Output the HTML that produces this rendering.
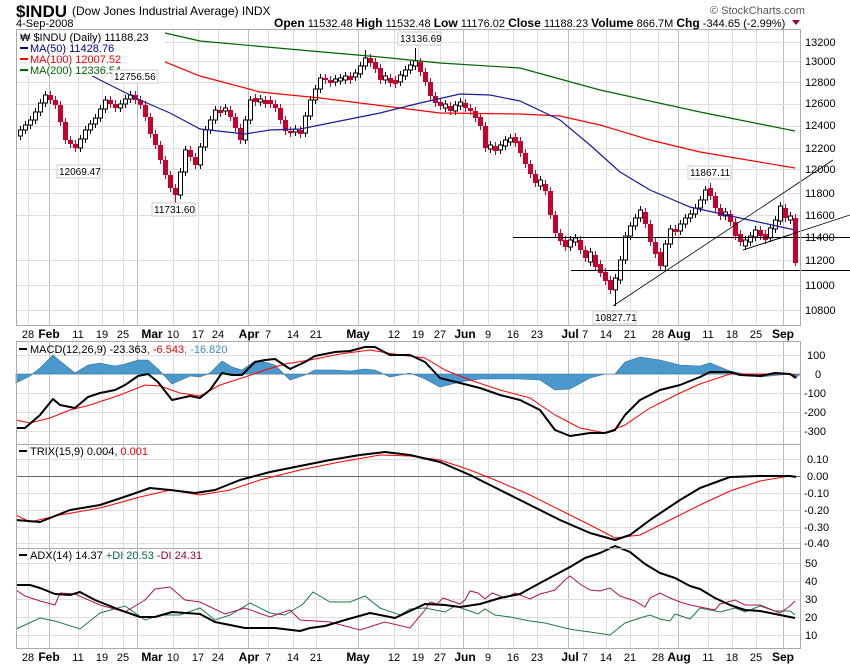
<!DOCTYPE html>
<html><head><meta charset="utf-8"><style>
html,body{margin:0;padding:0;background:#fff;}
svg{display:block;font-family:"Liberation Sans",sans-serif;}
</style></head><body>
<svg width="850" height="668" viewBox="0 0 850 668" xmlns="http://www.w3.org/2000/svg">
<rect width="850" height="668" fill="#fff"/>
<defs>
<g id="vg">
<g stroke="#ddd" stroke-width="1">
<line x1="28.5" x2="28.5" y1="0" y2="1"/><line x1="78.5" x2="78.5" y1="0" y2="1"/><line x1="102.5" x2="102.5" y1="0" y2="1"/><line x1="123.5" x2="123.5" y1="0" y2="1"/><line x1="173.5" x2="173.5" y1="0" y2="1"/><line x1="198.5" x2="198.5" y1="0" y2="1"/><line x1="218.5" x2="218.5" y1="0" y2="1"/><line x1="268.5" x2="268.5" y1="0" y2="1"/><line x1="293.5" x2="293.5" y1="0" y2="1"/><line x1="316.5" x2="316.5" y1="0" y2="1"/><line x1="394.5" x2="394.5" y1="0" y2="1"/><line x1="418.5" x2="418.5" y1="0" y2="1"/><line x1="440.5" x2="440.5" y1="0" y2="1"/><line x1="488.5" x2="488.5" y1="0" y2="1"/><line x1="513.5" x2="513.5" y1="0" y2="1"/><line x1="537.5" x2="537.5" y1="0" y2="1"/><line x1="583.5" x2="583.5" y1="0" y2="1"/><line x1="606.5" x2="606.5" y1="0" y2="1"/><line x1="630.5" x2="630.5" y1="0" y2="1"/><line x1="658.5" x2="658.5" y1="0" y2="1"/><line x1="708.5" x2="708.5" y1="0" y2="1"/><line x1="732.5" x2="732.5" y1="0" y2="1"/><line x1="756.5" x2="756.5" y1="0" y2="1"/>
</g>
<g stroke="#bbb" stroke-width="1">
<line x1="49.5" x2="49.5" y1="0" y2="1"/><line x1="137.5" x2="137.5" y1="0" y2="1"/><line x1="248.5" x2="248.5" y1="0" y2="1"/><line x1="358.5" x2="358.5" y1="0" y2="1"/><line x1="463.5" x2="463.5" y1="0" y2="1"/><line x1="568.5" x2="568.5" y1="0" y2="1"/><line x1="678.5" x2="678.5" y1="0" y2="1"/><line x1="783.5" x2="783.5" y1="0" y2="1"/>
</g>
</g>
</defs>
<use href="#vg" transform="translate(0,29) scale(1,296)"/>
<use href="#vg" transform="translate(0,341) scale(1,103)"/>
<use href="#vg" transform="translate(0,444) scale(1,104)"/>
<use href="#vg" transform="translate(0,548) scale(1,100)"/>
<g stroke="#ddd" stroke-width="1">
<line x1="16" x2="800" y1="42.5" y2="42.5"/><line x1="16" x2="800" y1="61.5" y2="61.5"/><line x1="16" x2="800" y1="82.5" y2="82.5"/><line x1="16" x2="800" y1="104.5" y2="104.5"/><line x1="16" x2="800" y1="126.5" y2="126.5"/><line x1="16" x2="800" y1="148.5" y2="148.5"/><line x1="16" x2="800" y1="169.5" y2="169.5"/><line x1="16" x2="800" y1="193.5" y2="193.5"/><line x1="16" x2="800" y1="215.5" y2="215.5"/><line x1="16" x2="800" y1="260.5" y2="260.5"/><line x1="16" x2="800" y1="285.5" y2="285.5"/><line x1="16" x2="800" y1="310.5" y2="310.5"/>
<line x1="16" x2="800" y1="355.5" y2="355.5"/><line x1="16" x2="800" y1="374.5" y2="374.5"/><line x1="16" x2="800" y1="393.5" y2="393.5"/><line x1="16" x2="800" y1="412.5" y2="412.5"/><line x1="16" x2="800" y1="431.5" y2="431.5"/>
<line x1="16" x2="800" y1="459.5" y2="459.5"/><line x1="16" x2="800" y1="493.5" y2="493.5"/><line x1="16" x2="800" y1="510.5" y2="510.5"/><line x1="16" x2="800" y1="527.5" y2="527.5"/><line x1="16" x2="800" y1="543.5" y2="543.5"/>
<line x1="16" x2="800" y1="563.5" y2="563.5"/><line x1="16" x2="800" y1="581.5" y2="581.5"/><line x1="16" x2="800" y1="599.5" y2="599.5"/><line x1="16" x2="800" y1="617.5" y2="617.5"/><line x1="16" x2="800" y1="635.5" y2="635.5"/>
</g>
<line x1="16" x2="800" y1="476.5" y2="476.5" stroke="#666"/>

<!-- candles: wicks -->
<path fill="none" stroke="#c8002e" stroke-width="1" d="M50.5,91V104M55.5,96V109M60.5,101V126M65.5,118V144M70.5,136V148M75.5,140V152M110.5,96V108M115.5,100V112M135.5,91V104M140.5,96V109M145.5,101V121M150.5,113V138M155.5,130V149M160.5,141V164M165.5,156V179M170.5,171V192M175.5,184V204M190.5,146V161M195.5,153V169M220.5,106V117M230.5,106V121M235.5,113V132M240.5,124V144M255.5,94V106M265.5,96V108M270.5,96V108M275.5,100V112M280.5,104V124M285.5,116V135M290.5,127V137M300.5,126V138M325.5,74V84M330.5,76V87M350.5,72V84M370.5,54V67M375.5,58V73M380.5,64V84M390.5,74V87M395.5,76V88M420.5,58V76M425.5,68V86M430.5,78V100M435.5,92V107M440.5,98V110M450.5,102V115M465.5,99V112M470.5,104V115M475.5,107V122M480.5,113V130M485.5,122V152M495.5,142V155M515.5,133V147M520.5,137V157M525.5,149V168M530.5,160V178M535.5,170V187M545.5,180V195M550.5,187V219M555.5,211V237M560.5,229V245M565.5,236V251M580.5,236V254M585.5,246V262M595.5,251V271M600.5,260V277M605.5,268V285M610.5,276V294M645.5,208V228M650.5,220V246M655.5,238V258M660.5,248V270M675.5,225V236M710.5,183V200M715.5,192V212M720.5,204V220M730.5,210V226M735.5,218V240M740.5,230V246M760.5,226V240M765.5,230V244M785.5,204V222M795.5,214V266"/>
<path fill="none" stroke="#000" stroke-width="1" d="M20.5,126V140M25.5,121V134M30.5,116V129M35.5,108V124M40.5,99V116M45.5,91V107M80.5,135V152M85.5,126V143M90.5,120V134M95.5,114V128M100.5,105V122M105.5,96V113M120.5,100V112M125.5,95V108M130.5,91V103M180.5,168V199M185.5,146V176M200.5,143V169M205.5,126V151M210.5,116V134M215.5,106V124M225.5,104V115M245.5,116V144M250.5,96V124M260.5,95V106M295.5,125V136M305.5,112V137M310.5,96V120M315.5,85V104M320.5,74V93M335.5,75V86M340.5,74V85M345.5,72V84M355.5,69V81M360.5,62V78M365.5,50V70M385.5,72V84M400.5,71V86M405.5,66V80M410.5,61V74M415.5,48V70M445.5,100V112M455.5,101V115M460.5,98V110M490.5,141V153M500.5,141V154M505.5,136V150M510.5,134V146M540.5,176V190M570.5,236V251M575.5,234V246M590.5,248V266M615.5,274V306M620.5,256V284M625.5,232V264M630.5,222V240M635.5,214V230M640.5,206V222M665.5,240V270M670.5,225V248M680.5,220V235M685.5,214V228M690.5,210V222M695.5,204V218M700.5,196V212M705.5,186V204M725.5,208V220M745.5,236V250M750.5,232V246M755.5,226V241M770.5,224V242M775.5,216V233M780.5,202V225M790.5,212V224"/>
<path fill="#c8002e" d="M48,95h5V100h-5zM53,100h5V105h-5zM58,105h5V122h-5zM63,122h5V140h-5zM68,140h5V144h-5zM73,144h5V148h-5zM108,100h5V104h-5zM113,104h5V108h-5zM133,95h5V100h-5zM138,100h5V105h-5zM143,105h5V117h-5zM148,117h5V134h-5zM153,134h5V145h-5zM158,145h5V160h-5zM163,160h5V175h-5zM168,175h5V188h-5zM173,188h5V195h-5zM188,150h5V157h-5zM193,157h5V165h-5zM218,110h5V113h-5zM228,110h5V117h-5zM233,117h5V128h-5zM238,128h5V140h-5zM253,98h5V102h-5zM263,100h5V104h-5zM268,100h5V104h-5zM273,104h5V108h-5zM278,108h5V120h-5zM283,120h5V131h-5zM288,131h5V133h-5zM298,130h5V134h-5zM323,78h5V80h-5zM328,80h5V83h-5zM348,76h5V80h-5zM368,58h5V63h-5zM373,62h5V69h-5zM378,68h5V80h-5zM388,78h5V83h-5zM393,80h5V84h-5zM418,62h5V72h-5zM423,72h5V82h-5zM428,82h5V96h-5zM433,96h5V103h-5zM438,102h5V106h-5zM448,106h5V111h-5zM463,103h5V108h-5zM468,108h5V111h-5zM473,111h5V118h-5zM478,117h5V126h-5zM483,126h5V148h-5zM493,146h5V151h-5zM513,137h5V143h-5zM518,141h5V153h-5zM523,153h5V164h-5zM528,164h5V174h-5zM533,174h5V183h-5zM543,184h5V191h-5zM548,191h5V215h-5zM553,215h5V233h-5zM558,233h5V241h-5zM563,240h5V247h-5zM578,240h5V250h-5zM583,250h5V258h-5zM593,255h5V267h-5zM598,264h5V273h-5zM603,272h5V281h-5zM608,280h5V290h-5zM643,212h5V224h-5zM648,224h5V242h-5zM653,242h5V254h-5zM658,252h5V266h-5zM673,229h5V232h-5zM708,188h5V196h-5zM713,196h5V208h-5zM718,208h5V216h-5zM728,214h5V222h-5zM733,222h5V236h-5zM738,234h5V242h-5zM758,230h5V236h-5zM763,234h5V240h-5zM783,208h5V218h-5zM793,218h5V263h-5z"/>
<path fill="#fff" stroke="#000" stroke-width="1" d="M18.5,130h4V136h-4zM23.5,125h4V130h-4zM28.5,120h4V125h-4zM33.5,112h4V120h-4zM38.5,103h4V112h-4zM43.5,95h4V103h-4zM78.5,139h4V148h-4zM83.5,130h4V139h-4zM88.5,124h4V130h-4zM93.5,118h4V124h-4zM98.5,109h4V118h-4zM103.5,100h4V109h-4zM118.5,104h4V108h-4zM123.5,99h4V104h-4zM128.5,95h4V99h-4zM178.5,172h4V195h-4zM183.5,150h4V172h-4zM198.5,147h4V165h-4zM203.5,130h4V147h-4zM208.5,120h4V130h-4zM213.5,110h4V120h-4zM223.5,108h4V111h-4zM243.5,120h4V140h-4zM248.5,100h4V120h-4zM258.5,99h4V102h-4zM293.5,129h4V132h-4zM303.5,116h4V133h-4zM308.5,100h4V116h-4zM313.5,89h4V100h-4zM318.5,78h4V89h-4zM333.5,79h4V82h-4zM338.5,78h4V81h-4zM343.5,76h4V80h-4zM353.5,73h4V77h-4zM358.5,66h4V74h-4zM363.5,58h4V66h-4zM383.5,76h4V80h-4zM398.5,75h4V82h-4zM403.5,70h4V76h-4zM408.5,65h4V70h-4zM413.5,61h4V66h-4zM443.5,104h4V108h-4zM453.5,105h4V111h-4zM458.5,102h4V106h-4zM488.5,145h4V149h-4zM498.5,145h4V150h-4zM503.5,140h4V146h-4zM508.5,138h4V142h-4zM538.5,180h4V186h-4zM568.5,240h4V247h-4zM573.5,238h4V242h-4zM588.5,252h4V262h-4zM613.5,278h4V290h-4zM618.5,260h4V280h-4zM623.5,236h4V260h-4zM628.5,226h4V236h-4zM633.5,218h4V226h-4zM638.5,210h4V218h-4zM663.5,244h4V266h-4zM668.5,229h4V244h-4zM678.5,224h4V231h-4zM683.5,218h4V224h-4zM688.5,214h4V218h-4zM693.5,208h4V214h-4zM698.5,200h4V208h-4zM703.5,190h4V200h-4zM723.5,212h4V216h-4zM743.5,240h4V246h-4zM748.5,236h4V242h-4zM753.5,230h4V237h-4zM768.5,228h4V238h-4zM773.5,220h4V229h-4zM778.5,206h4V221h-4zM788.5,216h4V220h-4z"/>

<!-- moving averages -->
<polyline fill="none" stroke="#006400" stroke-width="1.2" points="165,33 200,41 300,50 380,57 440,63 520,68 600,90 700,112 795,131"/>
<polyline fill="none" stroke="#f00" stroke-width="1.2" points="100,42 160,60 200,76 260,92 320,98 400,108 440,113 520,114 560,116 600,125 650,140 700,152 795,168"/>
<polyline fill="none" stroke="#1a1a99" stroke-width="1.2" points="85,72 100,80 140,100 170,113 200,129 245,134 270,130 300,129 330,123 380,113 420,103 460,94 490,95 520,101 560,120 590,145 620,172 650,190 690,207 740,218 795,230"/>
<!-- trendlines -->
<line x1="513" x2="850" y1="237.5" y2="237.5" stroke="#000"/>
<line x1="571" x2="850" y1="270.5" y2="270.5" stroke="#000"/>
<line x1="613" y1="306" x2="833" y2="160" stroke="#000" stroke-width=".8"/>
<line x1="743" y1="250" x2="850" y2="215" stroke="#000" stroke-width=".8"/>
<line x1="743" y1="250" x2="790" y2="235" stroke="#000" stroke-width=".8"/>

<!-- MACD histogram -->
<polygon fill="#4b98cc" stroke="#2a6e9e" stroke-width=".6" points="16,374 16,383 30,376 40,368 53,355 60,361 75,373 88,365 100,363 115,366 125,364 138,360 148,360 158,369 172,384 190,376 200,377 210,373 222,361 232,367 242,370 255,361 265,362 275,365 290,380 305,375 315,370 335,370 350,371 365,369 375,370 390,377 410,373 425,379 440,387 460,382 480,379 500,379 520,379 540,380 555,390 570,389 590,378 605,374 615,374 625,362 640,357 660,360 680,365 700,366 710,363 730,371 760,377 790,374 796,378 800,374"/>
<polyline fill="none" stroke="#f00" stroke-width="1" points="16,420 30,423 50,418 70,410 90,405 120,395 145,385 160,386 180,393 200,396 220,385 245,377 265,370 285,364 310,360 340,354 370,350 400,355 425,358 445,370 470,380 500,390 530,398 555,415 580,428 605,433 625,425 650,408 680,393 700,384 730,374 760,374 790,374 796,375"/>
<polyline fill="none" stroke="#000" stroke-width="2" stroke-linejoin="round" points="16,428 25,428 40,415 53,399 60,405 75,408 88,397 100,393 115,390 125,385 138,376 148,374 158,382 172,400 190,396 200,398 210,390 222,373 232,375 242,375 255,362 265,360 275,359 290,369 305,362 315,356 335,352 350,351 365,347 375,347 390,355 410,355 425,362 440,378 460,383 480,388 500,395 520,400 540,410 555,430 570,436 590,433 605,433 615,430 625,415 640,400 660,390 680,385 700,377 710,372 730,372 740,375 760,376 775,373 790,374 796,378"/>

<!-- TRIX -->
<polyline fill="none" stroke="#f00" stroke-width="1" points="16,515 30,522 60,515 100,508 140,497 170,490 200,495 230,490 260,480 300,470 340,462 380,455 410,456 440,460 470,470 500,482 530,495 560,510 590,525 615,538 640,535 670,520 700,505 730,491 760,481 790,476 796,476"/>
<polyline fill="none" stroke="#000" stroke-width="2" stroke-linejoin="round" points="16,520 40,522 70,510 100,505 130,495 150,488 170,490 195,493 215,490 240,480 270,472 300,466 330,460 360,455 385,452 410,455 440,462 470,475 500,490 530,505 560,520 590,533 615,540 630,535 650,520 680,500 700,488 730,477 760,476 790,476 796,477"/>

<!-- ADX -->
<polyline fill="none" stroke="#1f7a45" stroke-width="1" points="16,629 25,625 40,618 55,621 80,629 100,613 125,606 145,620 160,615 180,615 200,608 215,620 230,615 250,603 270,613 285,615 303,604 313,592 330,602 350,602 365,596 380,608 400,615 410,609 425,608 445,612 455,606 470,611 478,614 485,609 495,615 510,617 530,621 545,623 565,628 575,630 590,632 610,635 625,623 640,618 650,615 660,619 670,621 675,614 690,619 700,608 720,612 735,608 745,612 760,606 775,611 790,611 795,615"/>
<polyline fill="none" stroke="#b0154a" stroke-width="1" points="16,590 25,596 40,601 55,605 60,593 75,594 100,605 125,612 145,600 155,589 170,587 185,600 200,602 225,614 245,608 270,617 290,610 300,620 330,622 360,630 385,622 410,628 425,610 430,602 437,604 443,598 460,604 465,600 470,591 478,593 485,599 492,593 505,598 515,593 530,599 540,594 548,592 555,590 565,580 570,576 580,584 590,590 600,591 610,588 620,596 635,601 645,607 650,598 660,593 670,598 680,602 690,605 705,608 715,610 720,604 735,600 745,605 760,605 780,613 790,606 795,601"/>
<polyline fill="none" stroke="#000" stroke-width="2" stroke-linejoin="round" points="16,585 30,585 40,588 55,594 70,595 80,592 95,600 120,610 140,617 155,617 172,612 200,614 215,622 245,628 275,628 300,631 310,628 325,626 345,620 370,613 395,618 425,604 445,605 460,607 480,604 500,598 520,594 540,583 555,575 570,567 585,558 600,553 615,546 630,552 645,564 660,573 675,578 690,586 700,589 715,598 730,605 745,610 760,611 780,615 795,618"/>

<!-- panel borders -->
<g fill="none" stroke="#aaa" stroke-width="1">
<rect x="16.5" y="29.5" width="784" height="296"/>
<rect x="16.5" y="341.5" width="784" height="103"/>
<rect x="16.5" y="444.5" width="784" height="104"/>
<rect x="16.5" y="548.5" width="784" height="100"/>
</g>
<!-- header -->
<text x="16" y="17" font-size="17" font-weight="bold" fill="#000">$INDU</text>
<text x="72" y="15" font-size="12" fill="#000">(Dow Jones Industrial Average)  INDX</text>
<text x="16" y="27" font-size="11" fill="#000">4-Sep-2008</text>
<text x="274" y="27" font-size="11" fill="#000"><tspan font-weight="bold" font-size="12">Open</tspan> 11532.48  <tspan font-weight="bold" font-size="12">High</tspan> 11532.48  <tspan font-weight="bold" font-size="12">Low</tspan> 11176.02  <tspan font-weight="bold" font-size="12">Close</tspan> 11188.23  <tspan font-weight="bold" font-size="12">Volume</tspan> 866.7M  <tspan font-weight="bold" font-size="12">Chg</tspan> -344.65 (-2.99%)</text>
<polygon points="792,20 800,20 796,25" fill="#a00030"/>
<text x="710" y="14" font-size="11" fill="#555">© StockCharts.com</text>
<!-- legend -->
<rect x="17" y="30" width="148" height="46" fill="#fff"/>
<text x="20" y="41" font-size="11" fill="#000">₩ $INDU (Daily) 11188.23</text>
<line x1="20" y1="48" x2="28" y2="48" stroke="#00008b" stroke-width="2"/><text x="30" y="52" font-size="11" fill="#00008b">MA(50) 11428.76</text>
<line x1="20" y1="59" x2="28" y2="59" stroke="#f00" stroke-width="2"/><text x="30" y="63" font-size="11" fill="#e00">MA(100) 12007.52</text>
<line x1="20" y1="70" x2="28" y2="70" stroke="#006400" stroke-width="2"/><text x="30" y="74" font-size="11" fill="#006400">MA(200) 12336.54</text>
<!-- annotations -->
<g font-size="10" fill="#000">
<rect x="112" y="70" width="46" height="13" fill="#fff" stroke="#ccc"/><text x="114" y="80">12756.56</text>
<rect x="57" y="165" width="43" height="13" fill="#fff" stroke="#ccc"/><text x="59" y="175">12069.47</text>
<rect x="152" y="203" width="43" height="13" fill="#fff" stroke="#ccc"/><text x="154" y="213">11731.60</text>
<rect x="398" y="32" width="43" height="13" fill="#fff" stroke="#ccc"/><text x="400" y="42">13136.69</text>
<rect x="688" y="166" width="43" height="13" fill="#fff" stroke="#ccc"/><text x="690" y="176">11867.11</text>
<rect x="593" y="311" width="43" height="13" fill="#fff" stroke="#ccc"/><text x="595" y="321">10827.71</text>
</g>
<!-- right axis labels -->
<g font-size="11" fill="#000">
<text x="805" y="46">13200</text><text x="805" y="65">13000</text><text x="805" y="86">12800</text><text x="805" y="107">12600</text><text x="805" y="129">12400</text><text x="805" y="152">12200</text><text x="805" y="173">12000</text><text x="805" y="197">11800</text><text x="805" y="219">11600</text><text x="805" y="241">11400</text><text x="805" y="264">11200</text><text x="805" y="289">11000</text><text x="805" y="314">10800</text>
<text x="807" y="359">100</text><text x="815" y="378">0</text><text x="804" y="397">-100</text><text x="804" y="416">-200</text><text x="804" y="435">-300</text>
<text x="807" y="463">0.10</text><text x="807" y="480">0.00</text><text x="804" y="497">-0.10</text><text x="804" y="514">-0.20</text><text x="804" y="531">-0.30</text><text x="804" y="547">-0.40</text>
<text x="805" y="567">50</text><text x="805" y="585">40</text><text x="805" y="603">30</text><text x="805" y="621">20</text><text x="805" y="639">10</text>
</g>
<!-- indicator titles -->
<g font-size="11">
<line x1="19" y1="349" x2="27" y2="349" stroke="#000" stroke-width="2"/>
<text x="30" y="353" fill="#000">MACD(12,26,9) -23.363<tspan fill="#e00">, -6.543</tspan><tspan fill="#3b8ec8">, -16.820</tspan></text>
<line x1="19" y1="451" x2="27" y2="451" stroke="#000" stroke-width="2"/>
<text x="30" y="455" fill="#000">TRIX(15,9) 0.004, <tspan fill="#e00">0.001</tspan></text>
<line x1="19" y1="555" x2="27" y2="555" stroke="#000" stroke-width="2"/>
<text x="30" y="559" fill="#000">ADX(14) 14.37 <tspan fill="#006a3a">+DI 20.53</tspan> <tspan fill="#a00030">-DI 24.31</tspan></text>
</g>
<!-- date labels -->
<g font-size="11" fill="#000" text-anchor="middle">
<g transform="translate(0,338)">
<text x="28">28</text><text x="49" font-weight="bold" font-size="12">Feb</text><text x="78">11</text><text x="102">19</text><text x="123">25</text><text x="152" font-weight="bold" font-size="12">Mar</text><text x="173">10</text><text x="198">17</text><text x="218">24</text><text x="249" font-weight="bold" font-size="12">Apr</text><text x="268">7</text><text x="293">14</text><text x="316">21</text><text x="358" font-weight="bold" font-size="12">May</text><text x="394">12</text><text x="418">19</text><text x="440">27</text><text x="465" font-weight="bold" font-size="12">Jun</text><text x="488">9</text><text x="513">16</text><text x="537">23</text><text x="570" font-weight="bold" font-size="12">Jul</text><text x="585">7</text><text x="606">14</text><text x="630">21</text><text x="658">28</text><text x="679" font-weight="bold" font-size="12">Aug</text><text x="708">11</text><text x="732">18</text><text x="756">25</text><text x="783" font-weight="bold" font-size="12">Sep</text>
</g>
<g transform="translate(0,661)">
<text x="28">28</text><text x="49" font-weight="bold" font-size="12">Feb</text><text x="78">11</text><text x="102">19</text><text x="123">25</text><text x="152" font-weight="bold" font-size="12">Mar</text><text x="173">10</text><text x="198">17</text><text x="218">24</text><text x="249" font-weight="bold" font-size="12">Apr</text><text x="268">7</text><text x="293">14</text><text x="316">21</text><text x="358" font-weight="bold" font-size="12">May</text><text x="394">12</text><text x="418">19</text><text x="440">27</text><text x="465" font-weight="bold" font-size="12">Jun</text><text x="488">9</text><text x="513">16</text><text x="537">23</text><text x="570" font-weight="bold" font-size="12">Jul</text><text x="585">7</text><text x="606">14</text><text x="630">21</text><text x="658">28</text><text x="679" font-weight="bold" font-size="12">Aug</text><text x="708">11</text><text x="732">18</text><text x="756">25</text><text x="783" font-weight="bold" font-size="12">Sep</text>
</g>
</g>
</svg>
</body></html>
